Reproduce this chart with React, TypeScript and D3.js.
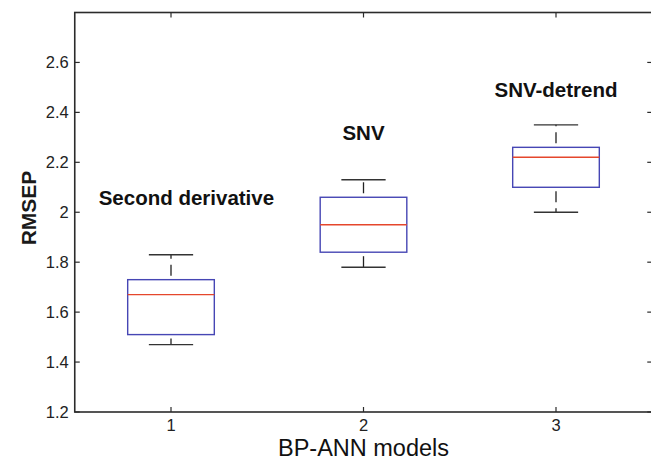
import * as d3 from "d3";

const models = [1, 2, 3];
const modelNames = ["Second derivative", "SNV", "SNV-detrend"];
const lowWhisker = [1.47, 1.78, 2.0];
const q1 = [1.51, 1.84, 2.1];
const medians = [1.67, 1.95, 2.22];
const q3 = [1.73, 2.06, 2.26];
const highWhisker = [1.83, 2.13, 2.35];

// where the annotation text sits, in data units
const nameX = [1.08, 2.0, 3.0];
const nameY = [2.03, 2.29, 2.46];

const yTicks = [1.2, 1.4, 1.6, 1.8, 2.0, 2.2, 2.4, 2.6];

const width = 651;
const height = 458;
const font = "'Liberation Sans', Arial, Helvetica, sans-serif";

export default function App() {
  const x = d3.scaleLinear().domain([0.5, 3.5]).range([74.75, 652.25]);
  const y = d3.scaleLinear().domain([1.2, 2.8]).range([412, 12.5]);

  const unit = x(1) - x(0);
  const boxHalf = unit * 0.225;
  const capHalf = unit * 0.115;
  const axisColor = "#2b2b2b";
  const tickLen = 5;

  const [x0, x1] = x.range();
  const [yb, yt] = y.range();

  return (
    <svg
      width={width}
      height={height}
      style={{ position: "absolute", left: 0, top: 0, background: "#fff" }}
      fontFamily={font}
    >
      {/* frame */}
      <rect
        x={x0}
        y={yt}
        width={x1 - x0}
        height={yb - yt}
        fill="none"
        stroke={axisColor}
        strokeWidth="1.6"
      />

      {yTicks.map((t) => (
        <g key={t}>
          <line x1={x0} x2={x0 + tickLen} y1={y(t)} y2={y(t)} stroke={axisColor} strokeWidth="1.2" />
          <line x1={x1} x2={x1 - tickLen} y1={y(t)} y2={y(t)} stroke={axisColor} strokeWidth="1.2" />
          <text
            x={x0 - 6}
            y={y(t)}
            dy="0.36em"
            fontSize="16.5"
            textAnchor="end"
            fill="#222"
          >
            {String(+t.toFixed(1))}
          </text>
        </g>
      ))}

      {models.map((m) => (
        <g key={m}>
          <line x1={x(m)} x2={x(m)} y1={yb} y2={yb - tickLen} stroke={axisColor} strokeWidth="1.2" />
          <line x1={x(m)} x2={x(m)} y1={yt} y2={yt + tickLen} stroke={axisColor} strokeWidth="1.2" />
          <text x={x(m)} y={431} fontSize="16.5" textAnchor="middle" fill="#222">
            {m}
          </text>
        </g>
      ))}

      {models.map((m, i) => {
        const cx = x(m);
        return (
          <g key={"box" + m}>
            <line
              x1={cx}
              x2={cx}
              y1={y(q3[i])}
              y2={y(highWhisker[i])}
              stroke="#222"
              strokeWidth="1.3"
              strokeDasharray="11,6"
              strokeDashoffset="-4"
            />
            <line
              x1={cx}
              x2={cx}
              y1={y(q1[i])}
              y2={y(lowWhisker[i])}
              stroke="#222"
              strokeWidth="1.3"
              strokeDasharray="11,6"
              strokeDashoffset="-4"
            />
            <line
              x1={cx - capHalf}
              x2={cx + capHalf}
              y1={y(highWhisker[i])}
              y2={y(highWhisker[i])}
              stroke="#333"
              strokeWidth="1.4"
            />
            <line
              x1={cx - capHalf}
              x2={cx + capHalf}
              y1={y(lowWhisker[i])}
              y2={y(lowWhisker[i])}
              stroke="#333"
              strokeWidth="1.4"
            />
            <rect
              x={cx - boxHalf}
              y={y(q3[i])}
              width={boxHalf * 2}
              height={y(q1[i]) - y(q3[i])}
              fill="none"
              stroke="#4646b4"
              strokeWidth="1.4"
            />
            <line
              x1={cx - boxHalf}
              x2={cx + boxHalf}
              y1={y(medians[i])}
              y2={y(medians[i])}
              stroke="#e5472c"
              strokeWidth="1.4"
            />
            <text
              x={x(nameX[i])}
              y={y(nameY[i])}
              fontSize="20.5"
              fontWeight="bold"
              textAnchor="middle"
              fill="#111"
            >
              {modelNames[i]}
            </text>
          </g>
        );
      })}

      <text
        transform={`translate(36, 208) rotate(-90)`}
        fontSize="21"
        fontWeight="bold"
        textAnchor="middle"
        fill="#1a1a1a"
      >
        RMSEP
      </text>

      <text x={x(2)} y={456} fontSize="23.5" textAnchor="middle" fill="#111">
        BP-ANN models
      </text>
    </svg>
  );
}
